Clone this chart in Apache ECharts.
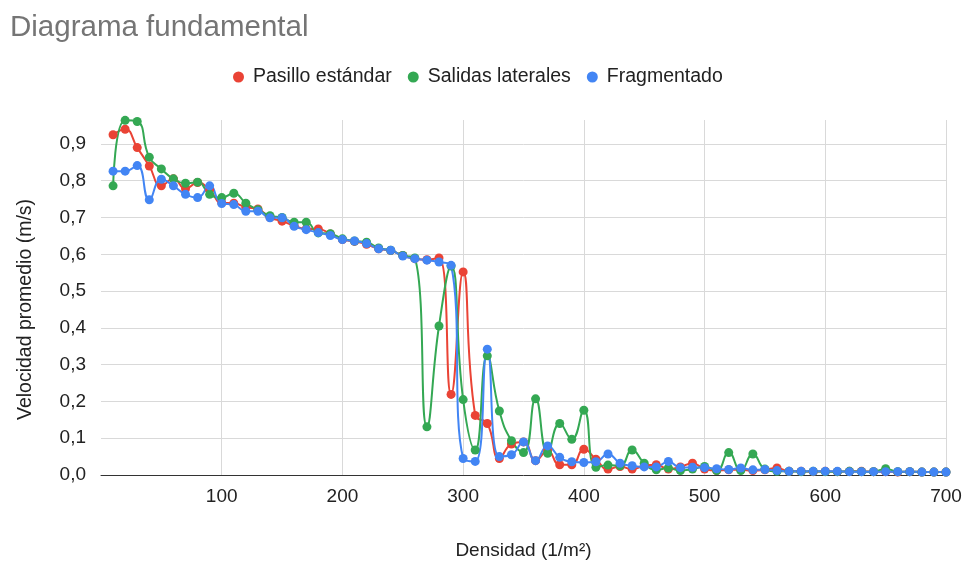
<!DOCTYPE html>
<html>
<head>
<meta charset="utf-8">
<style>
  html, body { margin: 0; padding: 0; background: #ffffff; }
  #chart { width: 965px; height: 565px; }
</style>
<script src="https://cdn.jsdelivr.net/npm/echarts@6/dist/echarts.min.js"></script>
</head>
<body>
<div id="chart"></div>
<script>
// Density values (1/m²) shared by all three series
const densidad = [];
for (let d = 10; d <= 700; d += 10) densidad.push(d);

// Average speed (m/s) for each layout, one value per density step
const pasilloEstandar = [
  0.925, 0.940, 0.890, 0.840, 0.786, 0.805, 0.778, 0.795, 0.775, 0.740,
  0.739, 0.728, 0.723, 0.700, 0.690, 0.678, 0.669, 0.669, 0.655, 0.640,
  0.635, 0.627, 0.615, 0.610, 0.597, 0.588, 0.585, 0.590, 0.219, 0.552,
  0.162, 0.140, 0.045, 0.084, 0.090, 0.039, 0.066, 0.028, 0.028, 0.070,
  0.043, 0.016, 0.023, 0.016, 0.025, 0.028, 0.016, 0.022, 0.032, 0.016,
  0.012, 0.014, 0.014, 0.012, 0.014, 0.019, 0.010, 0.010, 0.009, 0.010,
  0.009, 0.010, 0.010, 0.009, 0.009, 0.008, 0.009, 0.008, 0.008, 0.008
];
const salidasLaterales = [
  0.786, 0.964, 0.961, 0.864, 0.832, 0.805, 0.793, 0.796, 0.763, 0.754,
  0.766, 0.739, 0.721, 0.705, 0.700, 0.687, 0.687, 0.658, 0.656, 0.642,
  0.636, 0.633, 0.617, 0.611, 0.597, 0.590, 0.131, 0.405, 0.568, 0.205,
  0.068, 0.324, 0.174, 0.093, 0.061, 0.207, 0.059, 0.140, 0.097, 0.176,
  0.021, 0.027, 0.025, 0.068, 0.032, 0.014, 0.019, 0.012, 0.016, 0.023,
  0.012, 0.061, 0.012, 0.057, 0.016, 0.010, 0.010, 0.009, 0.010, 0.009,
  0.009, 0.010, 0.009, 0.009, 0.017, 0.009, 0.009, 0.008, 0.008, 0.008
];
const fragmentado = [
  0.826, 0.826, 0.841, 0.748, 0.804, 0.786, 0.763, 0.754, 0.786, 0.738,
  0.735, 0.717, 0.717, 0.699, 0.699, 0.676, 0.667, 0.659, 0.651, 0.640,
  0.636, 0.629, 0.615, 0.611, 0.595, 0.588, 0.584, 0.579, 0.570, 0.045,
  0.037, 0.342, 0.050, 0.055, 0.090, 0.039, 0.079, 0.048, 0.036, 0.034,
  0.036, 0.057, 0.032, 0.025, 0.022, 0.022, 0.037, 0.020, 0.021, 0.020,
  0.017, 0.015, 0.019, 0.014, 0.015, 0.012, 0.010, 0.010, 0.010, 0.010,
  0.010, 0.009, 0.009, 0.009, 0.009, 0.009, 0.009, 0.008, 0.008, 0.008
];

const nombres = ['Pasillo estándar', 'Salidas laterales', 'Fragmentado'];
const colores = ['#ea4335', '#34a853', '#4285f4'];
const valores = [pasilloEstandar, salidasLaterales, fragmentado];

const fuente = "'Liberation Sans', Arial, sans-serif";
const chart = echarts.init(document.getElementById('chart'), null, { renderer: 'canvas' });

const pares = arr => arr.map((v, i) => [densidad[i], v]);

chart.setOption({
  animation: false,
  backgroundColor: '#ffffff',
  textStyle: { fontFamily: fuente },
  title: {
    text: 'Diagrama fundamental',
    left: 5,
    top: 8,
    textStyle: { fontFamily: fuente, fontSize: 29.5, fontWeight: 'normal', color: '#757575' }
  },
  legend: {
    data: nombres,
    left: 228,
    top: 62,
    icon: 'circle',
    itemWidth: 11,
    itemHeight: 11,
    itemGap: 16,
    textStyle: { fontFamily: fuente, fontSize: 19.5, color: '#222222', padding: [0, 0, 0, 4] }
  },
  grid: { left: 101, right: 19, top: 120, bottom: 89, containLabel: false },
  xAxis: {
    type: 'value',
    min: 0,
    max: 700,
    interval: 100,
    name: 'Densidad (1/m²)',
    nameLocation: 'middle',
    nameGap: 66,
    nameTextStyle: { fontFamily: fuente, fontSize: 19, color: '#222222' },
    axisLine: { show: true, onZero: false, lineStyle: { color: '#333333', width: 1 } },
    axisTick: { show: false },
    axisLabel: {
      fontFamily: fuente, fontSize: 19, color: '#222222', margin: 12,
      formatter: v => (v === 0 ? '' : String(v))
    },
    splitLine: { show: true, showMinLine: false, lineStyle: { color: '#d9d9d9', width: 1 } }
  },
  yAxis: {
    type: 'value',
    min: 0,
    max: 0.965,
    interval: 0.1,
    name: 'Velocidad promedio (m/s)',
    nameLocation: 'middle',
    nameGap: 65,
    nameTextStyle: { fontFamily: fuente, fontSize: 19.5, color: '#222222', padding: [0, 24, 0, 0] },
    axisLine: { show: false },
    axisTick: { show: false },
    axisLabel: {
      fontFamily: fuente, fontSize: 19, color: '#222222', margin: 15,
      showMaxLabel: false,
      formatter: v => {
        const r = Math.round(v * 10);
        if (Math.abs(v * 10 - r) > 1e-6) return '';
        return (r / 10).toFixed(1).replace('.', ',');
      }
    },
    splitLine: { show: true, showMinLine: false, showMaxLine: false, lineStyle: { color: '#d9d9d9', width: 1 } }
  },
  series: nombres.map((n, k) => ({
    name: n,
    type: 'line',
    data: pares(valores[k]),
    smooth: 0.5,
    clip: true,
    symbol: 'circle',
    symbolSize: 9,
    showSymbol: true,
    itemStyle: { color: colores[k] },
    lineStyle: { color: colores[k], width: 2 },
    emphasis: { disabled: true }
  }))
});
</script>
</body>
</html>
